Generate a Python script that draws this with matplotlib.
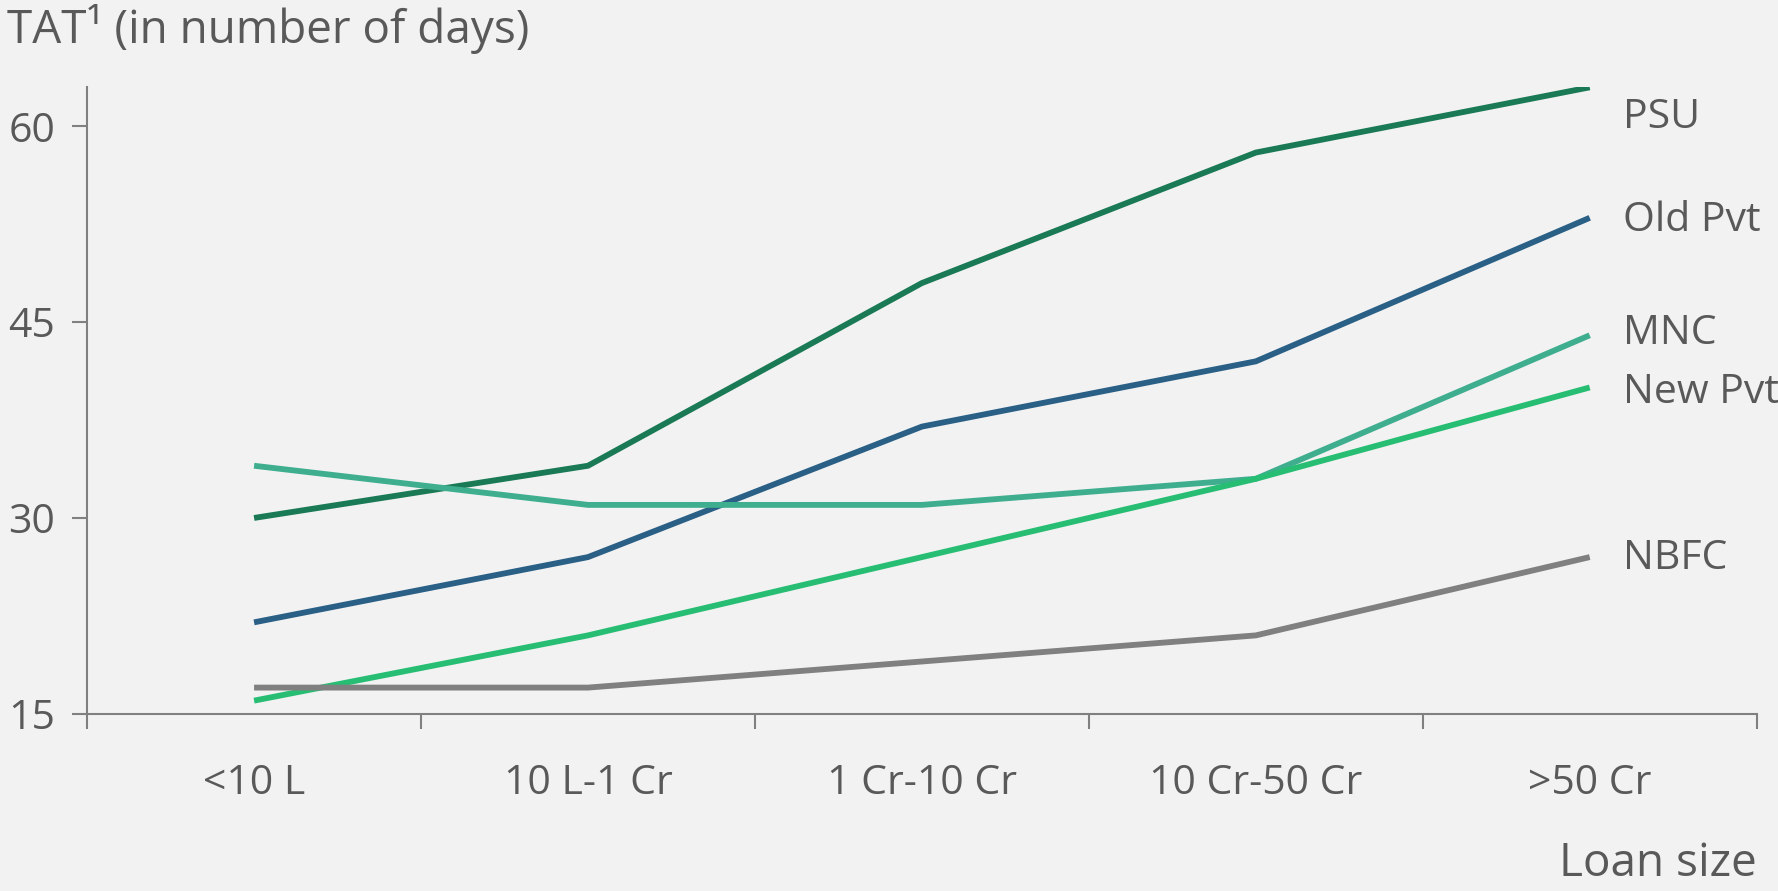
import matplotlib
matplotlib.use("Agg")
import matplotlib.pyplot as plt

# data
categories = ["<10 L", "10 L-1 Cr", "1 Cr-10 Cr", "10 Cr-50 Cr", ">50 Cr"]
psu = [30, 34, 48, 58, 63]
old_pvt = [22, 27, 37, 42, 53]
mnc = [34, 31, 31, 33, 44]
new_pvt = [16, 21, 27, 33, 40]
nbfc = [17, 17, 19, 21, 27]
label_y = [60.7, 52.8, 44.1, 39.6, 26.9]
y_ticks = [15, 30, 45, 60]

series = [
    ("PSU", psu, "#1a7a55"),
    ("Old Pvt", old_pvt, "#2a5f86"),
    ("MNC", mnc, "#3fae8f"),
    ("New Pvt", new_pvt, "#27be74"),
    ("NBFC", nbfc, "#808080"),
]

plt.rcParams['font.family'] = ['Open Sans', 'DejaVu Sans']
txt = "#595959"
bg = "#f2f2f2"

fig = plt.figure(figsize=(17.78, 8.91), dpi=100, facecolor=bg)
ax = fig.add_axes([0.049, 0.199, 0.939, 0.703])
ax.set_facecolor(bg)

x = list(range(len(categories)))
for (name, vals, col), ly in zip(series, label_y):
    ax.plot(x, vals, color=col, linewidth=4.2, solid_capstyle="butt")
    ax.text(4.1, ly, name, color=txt, fontsize=29.5, va="center", ha="left")

ax.set_xlim(-0.5, 4.5)
ax.set_ylim(15, 63)
ax.set_xticks(x)
ax.set_xticklabels(categories, fontsize=29.5, color=txt)
ax.set_xticks([i - 0.5 for i in range(6)], minor=True)
ax.tick_params(axis="x", which="major", length=0, pad=36)
ax.tick_params(axis="x", which="minor", length=11, width=1.5, color="#808080")
ax.set_yticks(y_ticks)
ax.set_yticklabels([str(v) for v in y_ticks], fontsize=29.5, color=txt)
ax.tick_params(axis="y", length=11, width=1.5, color="#808080", pad=12)

for s in ["top", "right"]:
    ax.spines[s].set_visible(False)
for s in ["left", "bottom"]:
    ax.spines[s].set_color("#808080")
    ax.spines[s].set_linewidth(1.5)

fig.text(0.004, 0.995, "TAT¹ (in number of days)", fontsize=33, color=txt, va="top", ha="left")
fig.text(0.988, 0.004, "Loan size", fontsize=33, color=txt, va="bottom", ha="right")

fig.savefig("out.png", dpi=100, facecolor=bg)
